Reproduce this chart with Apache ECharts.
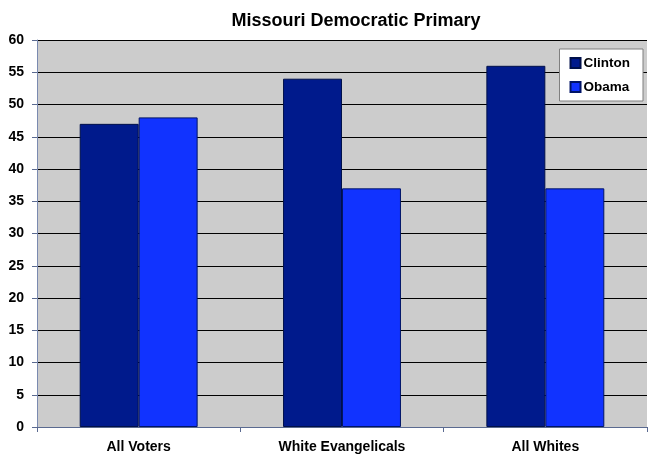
<!DOCTYPE html>
<html>
<head>
<meta charset="utf-8">
<script src="https://cdn.jsdelivr.net/npm/echarts@6/dist/echarts.min.js"></script>
<style>html,body{margin:0;padding:0;background:#fff;}#c{width:649px;height:458px;}</style>
</head>
<body>
<div id="c"></div>
<script>
const categories = ['All Voters', 'White Evangelicals', 'All Whites'];
const clinton = [47, 54, 56];
const obama = [48, 37, 37];
const seriesNames = ['Clinton', 'Obama'];

const chart = echarts.init(document.getElementById('c'), null, {renderer: 'canvas'});
const font = 'Liberation Sans, Arial, sans-serif';
chart.setOption({
  animation: false,
  backgroundColor: '#ffffff',
  title: {
    text: 'Missouri Democratic Primary',
    left: 351, top: 7, textAlign: 'center',
    textStyle: {fontFamily: font, fontWeight: 'bold', fontSize: 18, color: '#000'}
  },
  legend: {
    data: seriesNames,
    orient: 'vertical',
    right: 6, top: 49,
    backgroundColor: '#ffffff',
    borderColor: '#7f7f7f', borderWidth: 1,
    padding: [7, 13, 7, 10],
    itemGap: 10,
    itemWidth: 10, itemHeight: 10,
    icon: 'rect',
    textStyle: {fontFamily: font, fontWeight: 'bold', fontSize: 13.5, color: '#000', padding: [0,0,0,-2]}
  },
  grid: {left: 37, right: 2, top: 40, bottom: 31, show: true, backgroundColor: '#cccccc', borderWidth: 0},
  xAxis: {
    type: 'category', data: categories,
    axisLine: {lineStyle: {color: '#5a6a90', width: 1}},
    axisTick: {show: true, length: 5, lineStyle: {color: '#5a6a90'}},
    axisLabel: {fontFamily: font, fontWeight: 'bold', fontSize: 14, color: '#000', margin: 13}
  },
  yAxis: {
    type: 'value', min: 0, max: 60, interval: 5,
    axisLine: {show: true, lineStyle: {color: '#7a8ab0'}},
    axisTick: {show: true, length: 5, lineStyle: {color: '#5a6a90'}},
    axisLabel: {fontFamily: font, fontWeight: 'bold', fontSize: 14, color: '#000', margin: 13},
    splitLine: {lineStyle: {color: '#000', width: 1}}
  },
  series: [
    {name: seriesNames[0], type: 'bar', data: clinton, barGap: '0%', barCategoryGap: '42%',
     itemStyle: {color: '#001a8c', borderColor: '#00104a', borderWidth: 1}},
    {name: seriesNames[1], type: 'bar', data: obama,
     itemStyle: {color: '#1133ff', borderColor: '#001466', borderWidth: 1}}
  ]
});
</script>
</body>
</html>
